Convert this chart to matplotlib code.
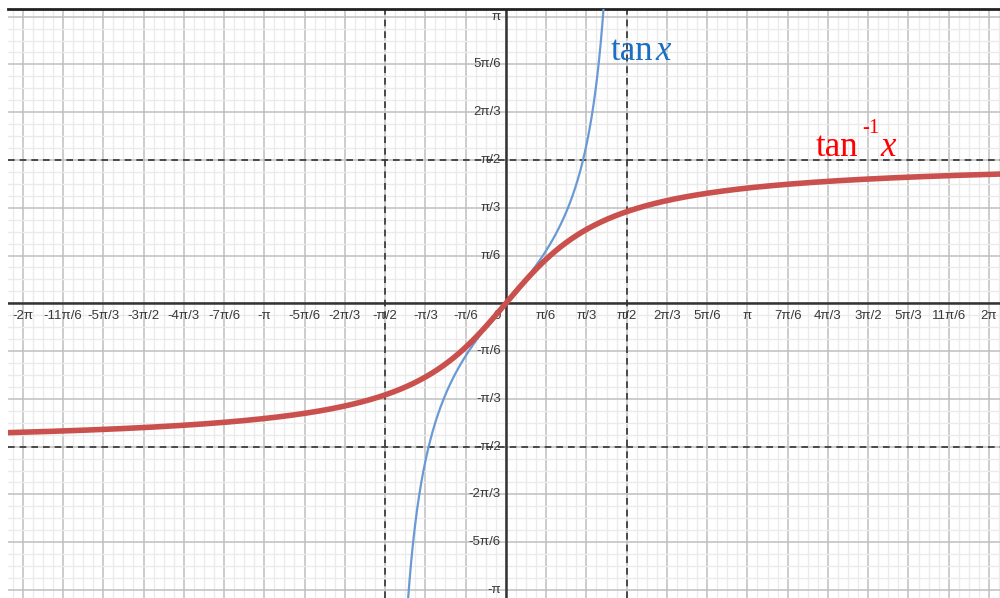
import numpy as np
import matplotlib
matplotlib.use("Agg")
import matplotlib.pyplot as plt

# ---- data ----
# tick positions in multiples of pi/6 and their labels
x_tick_multiples = list(range(-12, 13))
x_tick_labels = ["-2π", "-11π/6", "-5π/3", "-3π/2", "-4π/3", "-7π/6", "-π", "-5π/6",
                 "-2π/3", "-π/2", "-π/3", "-π/6", "0", "π/6", "π/3", "π/2", "2π/3",
                 "5π/6", "π", "7π/6", "4π/3", "3π/2", "5π/3", "11π/6", "2π"]
y_tick_multiples = [6, 5, 4, 3, 2, 1, -1, -2, -3, -4, -5, -6]
y_tick_labels = ["π", "5π/6", "2π/3", "π/2", "π/3", "π/6", "-π/6", "-π/3", "-π/2",
                 "-2π/3", "-5π/6", "-π"]
asymptotes = [-np.pi / 2, np.pi / 2]

# curves: y = tan x (principal branch) and y = arctan x
x_tan = np.linspace(-np.pi / 2 + 1e-3, np.pi / 2 - 1e-3, 2000)
y_tan = np.tan(x_tan)
x_atan = np.linspace(-13 * np.pi / 6, 13 * np.pi / 6, 2000)
y_atan = np.arctan(x_atan)

# ---- figure ----
u = np.pi / 6
fig = plt.figure(figsize=(10, 5.98), dpi=100)
ax = fig.add_axes([0.008, 0.0, 0.992, 589.5 / 598])

ax.set_xticks([k * u for k in range(-13, 14)])
ax.set_yticks([k * u for k in range(-7, 8)])
ax.set_xticks([k * u / 4 for k in range(-52, 53)], minor=True)
ax.set_yticks([k * u / 4 for k in range(-28, 29)], minor=True)
ax.grid(which="minor", color="#ebebeb", lw=1.0, zorder=0)
ax.grid(which="major", color="#bfbfbf", lw=1.1, zorder=0.5)
ax.tick_params(which="both", length=0, labelbottom=False, labelleft=False)
for s in ["left", "right", "bottom"]:
    ax.spines[s].set_visible(False)
ax.spines["top"].set_color("#222222")
ax.spines["top"].set_linewidth(2)
ax.set_axisbelow(True)

# axes
ax.axhline(0, color="#333333", lw=1.8, zorder=1)
ax.axvline(0, color="#333333", lw=1.8, zorder=1)
# asymptotes
for a in asymptotes:
    ax.axvline(a, color="#333333", lw=1.2, ls=(0, (4, 3)), zorder=1.2)
    ax.axhline(a, color="#333333", lw=1.2, ls=(0, (4, 3)), zorder=1.2)

# tick labels
lab_kw = dict(fontsize=9.5, color="#383838", family="Liberation Sans", zorder=3)
for k, lab in zip(x_tick_multiples, x_tick_labels):
    if k == 0:
        ax.annotate(lab, (0, 0), xytext=(-3.5, -4.5), textcoords="offset points",
                    ha="right", va="top", **lab_kw)
    else:
        ax.annotate(lab, (k * u, 0), xytext=(0, -4.5), textcoords="offset points",
                    ha="center", va="top", **lab_kw)
for k, lab in zip(y_tick_multiples, y_tick_labels):
    ax.annotate(lab, (0, k * u), xytext=(-3.5, 0), textcoords="offset points",
                ha="right", va="center", **lab_kw)

# curves
ax.plot(x_tan, y_tan, color="#6a9ad4", lw=1.6, zorder=4)
ax.plot(x_atan, y_atan, color="#c9504d", lw=4.0, zorder=5, solid_capstyle="butt")

ax.set_xlim(-12.366 * u, 12.274 * u)
ax.set_ylim(-6.168 * u, 6.170 * u)

# curve labels
def ftxt(px, py, s, **kw):
    fig.text(px / 1000, 1 - py / 598, s, va="baseline", ha="left", **kw)

blue = "#1a6fc2"
red = "#ff0000"
ftxt(611, 60, "tan", fontsize=25, color=blue, family="Liberation Serif")
ftxt(655, 60, "x", fontsize=25, color=blue, family="Liberation Serif", style="italic")
ftxt(816, 156, "tan", fontsize=25, color=red, family="Liberation Serif")
ftxt(862, 133, "-1", fontsize=15, color=red, family="Liberation Serif")
ftxt(880, 156, "x", fontsize=25, color=red, family="Liberation Serif", style="italic")

fig.savefig("out.png", dpi=100)
